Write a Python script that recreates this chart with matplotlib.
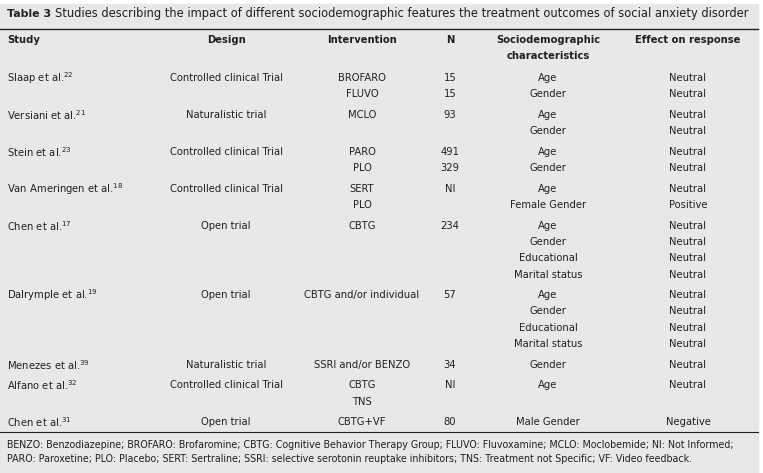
import matplotlib
matplotlib.use("Agg")
from matplotlib import pyplot as plt

title_bold = "Table 3"
title_rest = ("Studies describing the impact of different sociodemographic features "
              "the treatment outcomes of social anxiety disorder")

headers = ["Study", "Design", "Intervention", "N",
           "Sociodemographic\ncharacteristics", "Effect on response"]

studies = ["Slaap et al.", "Versiani et al.", "Stein et al.", "Van Ameringen et al.",
           "Chen et al.", "Dalrymple et al.", "Menezes et al.", "Alfano et al.",
           "Chen et al."]
refs = ["22", "21", "23", "18", "17", "19", "39", "32", "31"]
designs = ["Controlled clinical Trial", "Naturalistic trial", "Controlled clinical Trial",
           "Controlled clinical Trial", "Open trial", "Open trial", "Naturalistic trial",
           "Controlled clinical Trial", "Open trial"]
interventions = [["BROFARO", "FLUVO"], ["MCLO"], ["PARO", "PLO"], ["SERT", "PLO"],
                 ["CBTG"], ["CBTG and/or individual"], ["SSRI and/or BENZO"],
                 ["CBTG", "TNS"], ["CBTG+VF"]]
n_values = [["15", "15"], ["93"], ["491", "329"], ["NI"], ["234"], ["57"], ["34"],
            ["NI"], ["80"]]
characteristics = [["Age", "Gender"], ["Age", "Gender"], ["Age", "Gender"],
                   ["Age", "Female Gender"],
                   ["Age", "Gender", "Educational", "Marital status"],
                   ["Age", "Gender", "Educational", "Marital status"],
                   ["Gender"], ["Age"], ["Male Gender"]]
effects = [["Neutral", "Neutral"], ["Neutral", "Neutral"], ["Neutral", "Neutral"],
           ["Neutral", "Positive"], ["Neutral"] * 4, ["Neutral"] * 4,
           ["Neutral"], ["Neutral"], ["Negative"]]

footnote = ["BENZO: Benzodiazepine; BROFARO: Brofaromine; CBTG: Cognitive Behavior Therapy Group; "
            "FLUVO: Fluvoxamine; MCLO: Moclobemide; NI: Not Informed;",
            "PARO: Paroxetine; PLO: Placebo; SERT: Sertraline; SSRI: selective serotonin reuptake "
            "inhibitors; TNS: Treatment not Specific; VF: Video feedback."]

W, H = 763, 473
bg = "#e8e8e8"
ink = "#231f20"
fam = "DejaVu Sans"
narrow = ["Liberation Sans Narrow", "DejaVu Sans"]
fs = 7.2

fig = plt.figure(figsize=(W / 100, H / 100), dpi=100)
ax = fig.add_axes([0, 0, 1, 1])
ax.set_xlim(0, W)
ax.set_ylim(H, 0)
ax.axis("off")

ax.add_patch(plt.Rectangle((0, 4), 758, H - 4, color=bg, zorder=0))

# title, sized so that it fills the width like the reference
tb = ax.text(7, 14, title_bold, fontsize=11, fontweight="bold", family=narrow,
             va="center", ha="left", color=ink)
tr = ax.text(55, 14, title_rest, fontsize=11, family=narrow,
             va="center", ha="left", color=ink)
fig.canvas.draw()
r = fig.canvas.get_renderer()
wr = tr.get_window_extent(r).width
tr.set_fontsize(11 * 698 / wr)
wb = tb.get_window_extent(r).width
tb.set_fontsize(min(11 * 44 / wb, tr.get_fontsize() * 1.1))
ax.plot([0, 758], [29, 29], color=ink, lw=1)

col_x = [7, 226, 362, 450, 548, 688]
col_ha = ["left", "center", "center", "center", "center", "center"]
for x, ha, h in zip(col_x, col_ha, headers):
    ax.text(x, 35, h, fontsize=fs, fontweight="bold", family=fam, ha=ha, va="top",
            color=ink, linespacing=1.7)

line_h = 16.3
gap = 20.6
y = 78
for i in range(len(studies)):
    ax.text(col_x[0], y, studies[i] + "$^{" + refs[i] + "}$", fontsize=fs, family=fam,
            ha="left", va="center", color=ink)
    ax.text(col_x[1], y, designs[i], fontsize=fs, family=fam, ha="center", va="center",
            color=ink)
    cols = [interventions[i], n_values[i], characteristics[i], effects[i]]
    for c, vals in enumerate(cols):
        for k, v in enumerate(vals):
            ax.text(col_x[c + 2], y + k * line_h, v, fontsize=fs, family=fam,
                    ha="center", va="center", color=ink)
    nlines = max(len(v) for v in cols)
    y += (nlines - 1) * line_h + gap

ax.plot([0, 758], [432, 432], color=ink, lw=0.8)
for k, line in enumerate(footnote):
    ax.text(7, 445 + k * 14, line, fontsize=6.85, family=fam, ha="left", va="center",
            color=ink)

fig.savefig("out.png", dpi=100, facecolor="white")
